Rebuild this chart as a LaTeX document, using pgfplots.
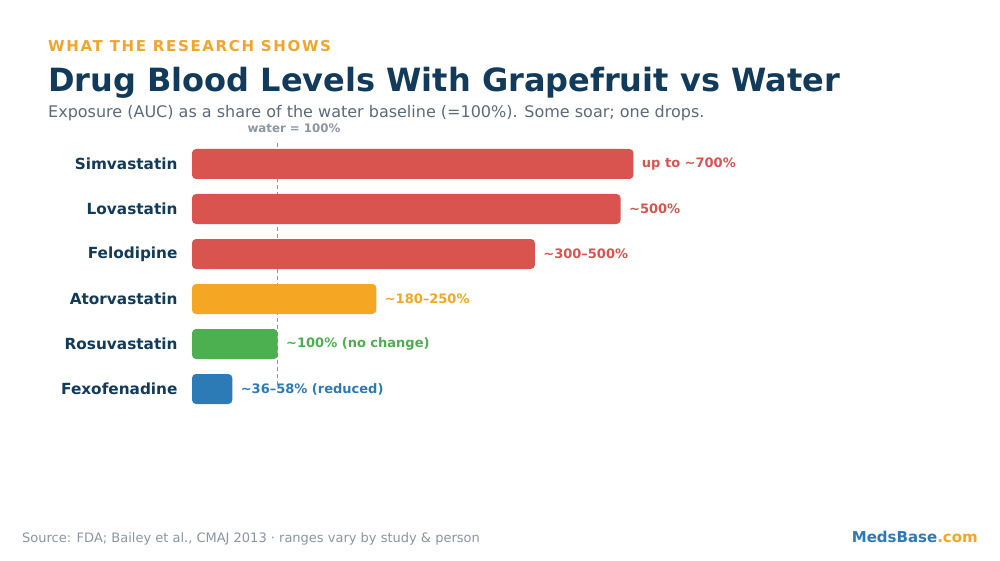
\documentclass[border=0pt]{standalone}
\usepackage{pgfplots}
\pgfplotsset{compat=1.18}
\usepackage{fontspec}
\setmainfont{DejaVu Sans}
\newfontfamily\spacedfont[LetterSpace=11]{DejaVu Sans}

\definecolor{navy}{HTML}{123A5A}
\definecolor{kicker}{HTML}{F2A52C}
\definecolor{subgray}{HTML}{5B6B7B}
\definecolor{lightgray}{HTML}{8A96A3}
\definecolor{barred}{HTML}{D9534F}
\definecolor{barorange}{HTML}{F5A623}
\definecolor{bargreen}{HTML}{4CAF50}
\definecolor{barblue}{HTML}{2C7BB6}

\begin{document}
\begin{tikzpicture}
\useasboundingbox[fill=white] (0,0) rectangle (1000pt,560pt);

% header
\node[anchor=base west, inner sep=0, text=kicker] at (48pt,508.3pt)
  {\fontsize{15}{18}\selectfont\spacedfont\bfseries WHAT THE RESEARCH SHOWS};
\node[anchor=base west, inner sep=0, text=navy] at (48pt,468.3pt)
  {\fontsize{32}{38}\selectfont\bfseries Drug Blood Levels With Grapefruit vs Water};
\node[anchor=base west, inner sep=0, text=subgray] at (48pt,442.3pt)
  {\fontsize{16}{19}\selectfont Exposure (AUC) as a share of the water baseline (=100\%). Some soar; one drops.};

\begin{axis}[
  at={(192pt,148.5pt)}, anchor=south west,
  scale only axis, width=600pt, height=270pt,
  xmin=0, xmax=700, ymin=-0.5, ymax=5.5,
  axis line style={draw=none},
  xtick=\empty,
  ytick={0,1,2,3,4,5},
  yticklabels={Fexofenadine,Rosuvastatin,Atorvastatin,Felodipine,Lovastatin,Simvastatin},
  major tick length=0pt,
  yticklabel style={font=\fontsize{15.3}{18}\selectfont\bfseries, text=navy, xshift=-11pt},
  clip=false,
  every axis plot/.append style={xbar, bar width=30pt, bar shift=0pt, draw=none, rounded corners=4pt},
  nodes near coords,
  point meta=explicit symbolic,
  every node near coord/.append style={anchor=west, xshift=5pt, font=\fontsize{13}{16}\selectfont\bfseries, rounded corners=0pt},
]
% baseline reference at 100%
\addplot[xbar=0pt, fill=none, draw=lightgray, line width=1.3pt, dash pattern=on 4pt off 3pt, rounded corners=0pt, nodes near coords={}, sharp plot]
  coordinates {(100,0.09) (100,5.47)};
\addplot[fill=barred, every node near coord/.append style={text=barred}]
  coordinates {(515,5) [up to \textasciitilde700\%]};
\addplot[fill=barred, every node near coord/.append style={text=barred}]
  coordinates {(500,4) [\textasciitilde500\%]};
\addplot[fill=barred, every node near coord/.append style={text=barred}]
  coordinates {(400,3) [\textasciitilde300--500\%]};
\addplot[fill=barorange, every node near coord/.append style={text=barorange}]
  coordinates {(215,2) [\textasciitilde180--250\%]};
\addplot[fill=bargreen, every node near coord/.append style={text=bargreen}]
  coordinates {(100,1) [\textasciitilde100\% (no change)]};
\addplot[fill=barblue, every node near coord/.append style={text=barblue}]
  coordinates {(47,0) [\textasciitilde36--58\% (reduced)]};
\end{axis}

\node[anchor=base, inner sep=0, text=lightgray] at (294pt,427.5pt)
  {\fontsize{11.8}{14}\selectfont\bfseries water = 100\%};

% footer
\node[anchor=base west, inner sep=0, text=lightgray] at (22pt,18pt)
  {\fontsize{13}{15}\selectfont Source: FDA; Bailey et al., CMAJ 2013 · ranges vary by study \& person};
\node[anchor=base east, inner sep=0] at (978pt,18pt)
  {\fontsize{15}{18}\selectfont\bfseries\textcolor{barblue}{MedsBase}\textcolor{barorange}{.com}};
\end{tikzpicture}
\end{document}
